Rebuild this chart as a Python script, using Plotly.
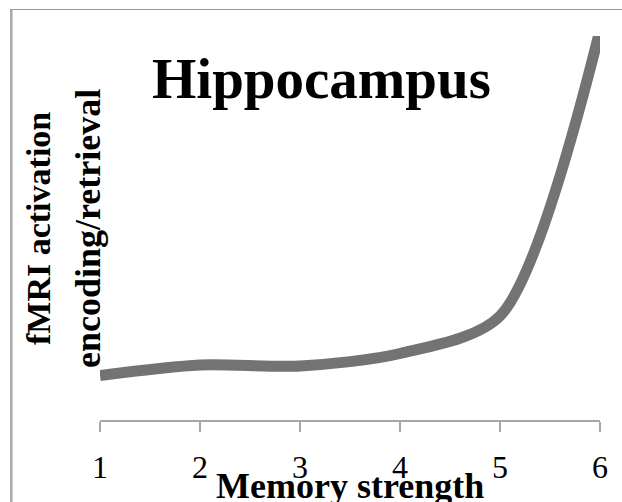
import plotly.graph_objects as go

# Data
memory_strength = [1, 2, 3, 4, 5, 6]
activation = [4.45, 5.5, 5.4, 6.65, 10.4, 39.0]
tick_labels = ["1", "2", "3", "4", "5", "6"]

W, H = 622, 502
L, R, T, B = 100, 22, 36, 82
PW, PH = W - L - R, H - T - B


def px(x):
    return (x - L) / PW


def py(y):
    return (H - B - y) / PH


SERIF = "Liberation Serif"

fig = go.Figure()
fig.add_trace(go.Scatter(
    x=memory_strength, y=activation, mode="lines",
    line=dict(color="#737373", width=11, shape="spline", smoothing=0.8),
    hoverinfo="skip", showlegend=False,
))

fig.update_layout(
    width=W, height=H,
    margin=dict(l=L, r=R, t=T, b=B, pad=0),
    paper_bgcolor="white", plot_bgcolor="white",
    xaxis=dict(
        range=[1, 6], tickvals=memory_strength, ticktext=tick_labels,
        showline=True, linecolor="#a6a6a6", linewidth=2,
        ticks="outside", ticklen=10, tickwidth=2, tickcolor="#a6a6a6",
        showgrid=False, zeroline=False, ticklabelstandoff=8,
        tickfont=dict(family=SERIF, size=32, color="black"),
    ),
    yaxis=dict(range=[0, 38.4], visible=False, showgrid=False, zeroline=False),
    shapes=[
        dict(type="line", xref="paper", yref="paper",
             x0=px(11.3), x1=px(11.3), y0=py(9), y1=py(520),
             line=dict(color="#a9a9a9", width=2.5)),
        dict(type="line", xref="paper", yref="paper",
             x0=px(10), x1=px(660), y0=py(9.5), y1=py(9.5),
             line=dict(color="#9a9a9a", width=1.2)),
    ],
    annotations=[
        dict(text="<b>Hippocampus</b>", xref="paper", yref="paper",
             x=px(321.5), y=py(79), xanchor="center", yanchor="middle",
             showarrow=False, font=dict(family=SERIF, size=57, color="black")),
        dict(text="<b>Memory strength</b>", xref="paper", yref="paper",
             x=px(350), y=py(486), xanchor="center", yanchor="middle",
             showarrow=False, font=dict(family=SERIF, size=36, color="black")),
        dict(text="<b>fMRI activation</b>", xref="paper", yref="paper",
             x=px(38), y=py(229), xanchor="center", yanchor="middle",
             textangle=-90, showarrow=False,
             font=dict(family=SERIF, size=34, color="black")),
        dict(text="<b>encoding/retrieval</b>", xref="paper", yref="paper",
             x=px(88), y=py(229), xanchor="center", yanchor="middle",
             textangle=-90, showarrow=False,
             font=dict(family=SERIF, size=36, color="black")),
    ],
)

fig.write_html("out.html", config={"displayModeBar": False},
               post_script="document.body.style.margin='0px';")
